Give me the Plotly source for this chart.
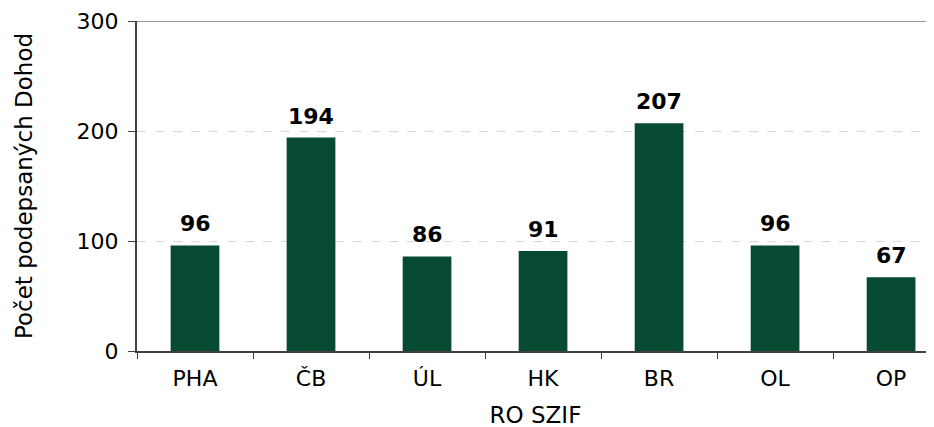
import plotly.graph_objects as go

categories = ["PHA", "ČB", "ÚL", "HK", "BR", "OL", "OP"]
values = [96, 194, 86, 91, 207, 96, 67]
y_ticks = [0, 100, 200, 300]

FONT = "DejaVu Sans"
BAR = "#064A32"

fig = go.Figure()
fig.add_trace(go.Bar(x=categories, y=values, marker=dict(color=BAR, line=dict(width=0)),
                     hoverinfo="skip"))

for c, v in zip(categories, values):
    fig.add_annotation(x=c, y=v, text=f"<b>{v}</b>", showarrow=False, yanchor="bottom",
                       yshift=7, font=dict(family=FONT, size=22, color="#000000"))

fig.add_shape(type="line", xref="paper", yref="y", x0=0, x1=1, y0=300, y1=300,
              line=dict(color="#9a9a9a", width=2), layer="above")

fig.update_layout(
    width=926, height=427,
    margin=dict(l=129, r=0, t=13, b=84),
    paper_bgcolor="white", plot_bgcolor="white",
    bargap=0.58,
    showlegend=False,
    font=dict(family=FONT, size=22, color="#000000"),
    xaxis=dict(
        range=[-0.5, 6.37],
        showline=True, linecolor="#404040", linewidth=2,
        ticks="outside", tickson="boundaries", ticklen=6, tickcolor="#404040", tickwidth=1,
        tickfont=dict(family=FONT, size=22),
        ticklabelstandoff=7,
        title=dict(text="RO SZIF", font=dict(family=FONT, size=23), standoff=16),
        showgrid=False,
    ),
    yaxis=dict(
        range=[0, 300], tickvals=y_ticks,
        showline=True, linecolor="#404040", linewidth=2,
        ticks="outside", ticklen=7, tickcolor="#404040", tickwidth=1,
        tickfont=dict(family=FONT, size=22),
        ticklabelstandoff=5,
        showgrid=True, gridcolor="#d9d9d9", griddash="dash", gridwidth=1,
        zeroline=False,
        title=dict(text="Počet podepsaných Dohod", font=dict(family=FONT, size=23), standoff=38),
    ),
)

fig.write_html("out.html")
